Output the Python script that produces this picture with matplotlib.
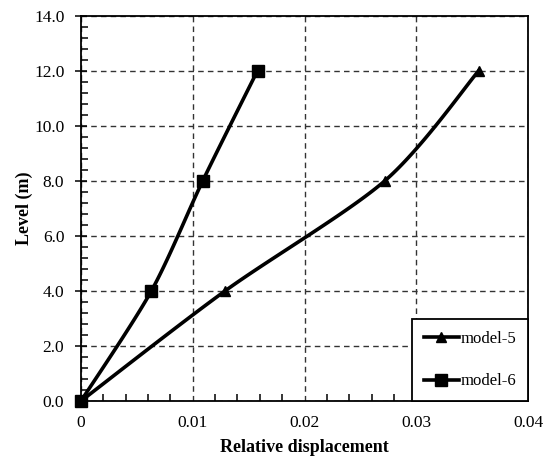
import numpy as np
import matplotlib
matplotlib.use("Agg")
import matplotlib.pyplot as plt
from matplotlib.ticker import MultipleLocator, FormatStrFormatter, FuncFormatter

levels = [0, 4, 8, 12]
model5 = [0.0, 0.0129, 0.0272, 0.0356]
model6 = [0.0, 0.0063, 0.0109, 0.0158]
series = [("model-5", model5, "^", 7.5), ("model-6", model6, "s", 8.5)]

plt.rcParams['font.family'] = ['Liberation Serif', 'DejaVu Serif']

fig = plt.figure(figsize=(5.53, 4.63), dpi=100)
ax = fig.add_axes([81/553, 62/463, 447/553, 385.5/463])
ax.set_xlim(0, 0.04)
ax.set_ylim(0, 14)


def excel_smooth(xs, ys, n=40, k=1/7.0):
    pts = ax.transData.transform(np.column_stack([xs, ys]))
    P = np.vstack([pts[0], pts, pts[-1]])
    out = []
    for i in range(1, len(P) - 2):
        p0, p1, p2, p3 = P[i - 1], P[i], P[i + 1], P[i + 2]
        c1 = p1 + (p2 - p0) * k
        c2 = p2 - (p3 - p1) * k
        t = np.linspace(0, 1, n)[:, None]
        seg = ((1 - t) ** 3) * p1 + 3 * ((1 - t) ** 2) * t * c1 + 3 * (1 - t) * t ** 2 * c2 + t ** 3 * p2
        out.append(seg if i == 1 else seg[1:])
    out = np.vstack(out)
    d = ax.transData.inverted().transform(out)
    return d[:, 0], d[:, 1]


for label, xs, mk, ms in series:
    sx, sy = excel_smooth(xs, levels)
    ax.plot(sx, sy, color='black', lw=2.6, solid_capstyle='round', zorder=3)
    ax.plot(xs, levels, linestyle='none', marker=mk, color='black', ms=ms, zorder=4, clip_on=False)
    ax.plot([], [], color='black', lw=2.6, marker=mk, ms=ms, label=label)

ax.xaxis.set_major_locator(MultipleLocator(0.01))
ax.xaxis.set_minor_locator(MultipleLocator(0.002))
ax.yaxis.set_major_locator(MultipleLocator(2))
ax.yaxis.set_minor_locator(MultipleLocator(0.4))
ax.yaxis.set_major_formatter(FormatStrFormatter('%.1f'))
ax.xaxis.set_major_formatter(FuncFormatter(lambda v, p: '0' if abs(v) < 1e-12 else ('%g' % round(v, 4))))

ax.grid(True, which='major', color='#333333', linestyle=(0, (4, 3)), lw=1.0)
ax.set_axisbelow(True)
for s in ax.spines.values():
    s.set_linewidth(1.3)
    s.set_color('black')

ax.tick_params(axis='x', which='major', direction='in', length=0, labelsize=12.5, pad=10)
ax.tick_params(axis='x', which='minor', direction='in', length=5, width=1.1)
ax.tick_params(axis='y', which='major', direction='inout', length=8, width=1.1, labelsize=12.5, pad=8)
ax.tick_params(axis='y', which='minor', direction='in', length=5, width=1.1)

ax.set_xlabel('Relative displacement', fontsize=13, fontweight='bold', labelpad=6)
ax.set_ylabel('Level (m)', fontsize=13, fontweight='bold', labelpad=1)

leg = ax.legend(loc='lower right', borderaxespad=0, fancybox=False, edgecolor='black',
                framealpha=1, fontsize=12, labelspacing=1.6, handlelength=2.1,
                handletextpad=0.1, borderpad=0.7)
leg.get_frame().set_linewidth(1.3)

fig.savefig('out.png', dpi=100)
